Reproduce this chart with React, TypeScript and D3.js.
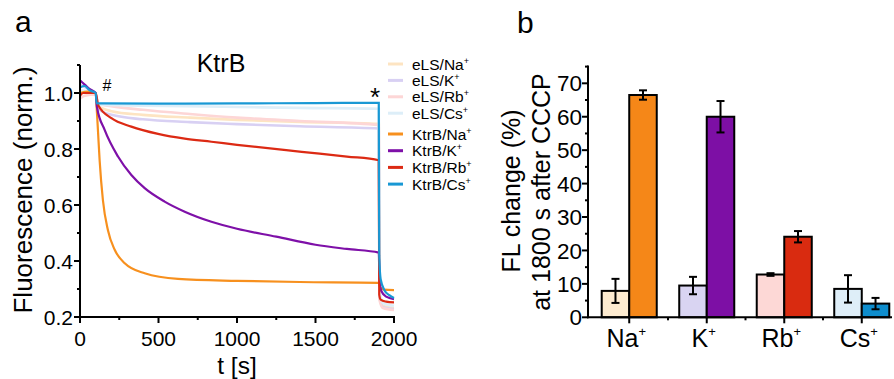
import React from "react";
import * as d3 from "d3";

// ---------- Panel a data: [time (s), normalized fluorescence] ----------
const elsNa: [number, number][] = [
  [0, 1.0], [50, 1.003], [100, 1.0], [110, 0.955], [200, 0.935], [400, 0.922], [700, 0.912],
  [1000, 0.904], [1400, 0.897], [1903, 0.89], [1908, 0.27], [1930, 0.24], [2000, 0.232],
];
const elsK: [number, number][] = [
  [0, 1.03], [50, 1.015], [100, 1.0], [110, 0.945], [200, 0.922], [400, 0.906], [700, 0.896],
  [1000, 0.889], [1400, 0.881], [1903, 0.873], [1908, 0.27], [1930, 0.235], [2000, 0.228],
];
const elsRb: [number, number][] = [
  [0, 0.98], [30, 0.99], [100, 0.995], [110, 0.962], [200, 0.953], [400, 0.94], [700, 0.925],
  [1000, 0.912], [1400, 0.9], [1903, 0.886], [1908, 0.26], [1930, 0.232], [2000, 0.225],
];
const elsCs: [number, number][] = [
  [0, 1.01], [100, 1.0], [110, 0.958], [400, 0.955], [1000, 0.95], [1400, 0.947],
  [1903, 0.944], [1908, 0.3], [1930, 0.25], [2000, 0.24],
];
const ktrbNa: [number, number][] = [
  [0, 1.0], [50, 1.005], [100, 1.0], [108, 0.93], [115, 0.86], [125, 0.76], [146, 0.617],
  [178, 0.51], [221, 0.44], [285, 0.392], [412, 0.356], [624, 0.336], [1000, 0.329],
  [1400, 0.325], [1903, 0.322], [1912, 0.305], [1935, 0.298], [2000, 0.296],
];
const ktrbK: [number, number][] = [
  [0, 1.045], [30, 1.03], [60, 1.015], [100, 1.0], [108, 0.95], [157, 0.868], [242, 0.773],
  [327, 0.707], [412, 0.66], [539, 0.612], [667, 0.576], [837, 0.54], [1000, 0.515],
  [1250, 0.487], [1500, 0.458], [1700, 0.443], [1903, 0.43], [1908, 0.33], [1920, 0.292],
  [1950, 0.273], [2000, 0.264],
];
const ktrbRb: [number, number][] = [
  [0, 0.99], [20, 1.0], [100, 1.0], [117, 0.955], [200, 0.91], [327, 0.88], [497, 0.854],
  [667, 0.837], [837, 0.826], [1000, 0.815], [1412, 0.79], [1700, 0.773], [1903, 0.76],
  [1906, 0.28], [1915, 0.262], [1950, 0.255], [2000, 0.252],
];
const ktrbCs: [number, number][] = [
  [0, 1.02], [30, 1.025], [60, 1.01], [100, 1.0], [106, 0.963], [500, 0.962], [1000, 0.963],
  [1500, 0.964], [1903, 0.965], [1906, 0.42], [1915, 0.335], [1940, 0.295], [1970, 0.278],
  [2000, 0.268],
];

const seriesNames = [
  "eLS/Na", "eLS/K", "eLS/Rb", "eLS/Cs", "KtrB/Na", "KtrB/K", "KtrB/Rb", "KtrB/Cs",
];
const seriesData = [elsNa, elsK, elsRb, elsCs, ktrbNa, ktrbK, ktrbRb, ktrbCs];
const seriesColors = [
  "#fde4c2", "#d8d0f3", "#fdd6d6", "#ddeef8", "#f7901e", "#7e10a8", "#dc2a14", "#1898d4",
];

const xTicksA = [0, 500, 1000, 1500, 2000];
const xMinorA = [250, 750, 1250, 1750];
const yTicksA = [0.2, 0.4, 0.6, 0.8, 1.0];
const yMinorA = [0.3, 0.5, 0.7, 0.9, 1.1];

// ---------- Panel b data ----------
const ions = ["Na", "K", "Rb", "Cs"];
const elsChange = [7.9, 9.5, 12.8, 8.5];
const elsErr = [3.6, 2.6, 0.4, 4.1];
const ktrbChange = [66.5, 60.0, 24.1, 4.1];
const ktrbErr = [1.4, 4.7, 1.7, 1.7];
const elsBarColors = ["#fdebd0", "#d9d4f2", "#fdd8d6", "#deeef8"];
const ktrbBarColors = ["#f58718", "#7d0fa5", "#d92b10", "#0e8dcd"];
const yTicksB = [0, 10, 20, 30, 40, 50, 60, 70];
const yMinorB = [5, 15, 25, 35, 45, 55, 65, 75];

const FONT = "'Liberation Sans', Arial, Helvetica, sans-serif";

export default function App() {
  // Panel a scales
  const xa = d3.scaleLinear().domain([0, 2000]).range([80, 394]);
  const ya = d3.scaleLinear().domain([0.2, 1.1]).range([317, 65]);
  const line = d3
    .line<[number, number]>()
    .x((d) => xa(d[0]))
    .y((d) => ya(d[1]))
    .curve(d3.curveMonotoneX);

  // Panel b scales
  const xb = d3
    .scaleBand<string>()
    .domain(ions)
    .range([588, 903])
    .paddingInner(0.29)
    .paddingOuter(0.177);
  const yb = d3.scaleLinear().domain([0, 75]).range([317.3, 66.6]);
  const bw = xb.bandwidth() / 2;

  const axisColor = "#000";

  return (
    <svg
      width={894}
      height={379}
      style={{ position: "absolute", left: 0, top: 0, background: "#fff" }}
      fontFamily={FONT}
    >
      <rect x={0} y={0} width={894} height={379} fill="#fff" />
      {/* ===== Panel a ===== */}
      <text x={15} y={32} fontSize={30}>a</text>
      <text x={221} y={72} fontSize={25} textAnchor="middle">KtrB</text>

      {seriesData.map((d, i) => (
        <path
          key={seriesNames[i]}
          d={line(d) || ""}
          fill="none"
          stroke={seriesColors[i]}
          strokeWidth={i < 4 ? 2.6 : 2.2}
        />
      ))}

      <text x={107} y={91} fontSize={16} textAnchor="middle">#</text>
      <text x={375} y={106} fontSize={26} textAnchor="middle">*</text>

      {/* axes a */}
      <line x1={80} x2={80} y1={ya(1.1)} y2={ya(0.2) + 1} stroke={axisColor} strokeWidth={2} />
      <line x1={79} x2={xa(2000) + 1} y1={ya(0.2)} y2={ya(0.2)} stroke={axisColor} strokeWidth={2} />
      {yTicksA.map((t) => (
        <g key={"ya" + t}>
          <line x1={74} x2={80} y1={ya(t)} y2={ya(t)} stroke={axisColor} strokeWidth={2} />
          <text x={73} y={ya(t)} dy="0.36em" fontSize={21} textAnchor="end">
            {t.toFixed(1)}
          </text>
        </g>
      ))}
      {yMinorA.map((t) => (
        <line key={"yam" + t} x1={77} x2={80} y1={ya(t)} y2={ya(t)} stroke={axisColor} strokeWidth={2} />
      ))}
      {xTicksA.map((t) => (
        <g key={"xa" + t}>
          <line x1={xa(t)} x2={xa(t)} y1={317} y2={323} stroke={axisColor} strokeWidth={2} />
          <text x={xa(t)} y={346} fontSize={21} textAnchor="middle">{t}</text>
        </g>
      ))}
      {xMinorA.map((t) => (
        <line key={"xam" + t} x1={xa(t)} x2={xa(t)} y1={317} y2={320} stroke={axisColor} strokeWidth={2} />
      ))}
      <text x={237} y={374} fontSize={24.5} textAnchor="middle">t [s]</text>
      <text
        transform={`translate(32,190) rotate(-90)`}
        fontSize={26}
        textAnchor="middle"
      >
        Fluorescence (norm.)
      </text>

      {/* legend a */}
      {seriesNames.map((n, i) => {
        const yy = i < 4 ? 64 + i * 16.4 : 134 + (i - 4) * 16.7;
        const [base, ion] = n.split("/");
        return (
          <g key={"leg" + n}>
            <line x1={388} x2={403} y1={yy} y2={yy} stroke={seriesColors[i]} strokeWidth={3} />
            <text x={412} y={yy + 5.5} fontSize={15.5}>
              {base}/{ion}
              <tspan dy={-6} fontSize={9}>+</tspan>
            </text>
          </g>
        );
      })}

      {/* ===== Panel b ===== */}
      <text x={517} y={33} fontSize={30}>b</text>

      {ions.map((ion, i) => {
        const x0 = xb(ion)!;
        return (
          <g key={"bar" + ion}>
            <rect
              x={x0}
              y={yb(elsChange[i])}
              width={bw}
              height={yb(0) - yb(elsChange[i])}
              fill={elsBarColors[i]}
              stroke="#000"
              strokeWidth={2}
            />
            <rect
              x={x0 + bw}
              y={yb(ktrbChange[i])}
              width={bw}
              height={yb(0) - yb(ktrbChange[i])}
              fill={ktrbBarColors[i]}
              stroke="#000"
              strokeWidth={2}
            />
            {[
              [x0 + bw / 2, elsChange[i], elsErr[i]],
              [x0 + bw * 1.5, ktrbChange[i], ktrbErr[i]],
            ].map(([cx, v, e], k) => (
              <g key={k}>
                <line x1={cx} x2={cx} y1={yb(v - e)} y2={yb(v + e)} stroke="#000" strokeWidth={2} />
                <line x1={cx - 4} x2={cx + 4} y1={yb(v - e)} y2={yb(v - e)} stroke="#000" strokeWidth={2} />
                <line x1={cx - 4} x2={cx + 4} y1={yb(v + e)} y2={yb(v + e)} stroke="#000" strokeWidth={2} />
              </g>
            ))}
          </g>
        );
      })}

      {/* axes b */}
      <line x1={588} x2={588} y1={yb(75.3)} y2={yb(0) + 1} stroke={axisColor} strokeWidth={2} />
      <line x1={587} x2={892} y1={yb(0)} y2={yb(0)} stroke={axisColor} strokeWidth={2} />
      {yTicksB.map((t) => (
        <g key={"yb" + t}>
          <line x1={582} x2={588} y1={yb(t)} y2={yb(t)} stroke={axisColor} strokeWidth={2} />
          <text x={582} y={yb(t)} dy="0.36em" fontSize={22.5} textAnchor="end">{t}</text>
        </g>
      ))}
      {yMinorB.map((t) => (
        <line key={"ybm" + t} x1={585} x2={588} y1={yb(t)} y2={yb(t)} stroke={axisColor} strokeWidth={2} />
      ))}
      {ions.map((ion) => {
        const cx = xb(ion)! + xb.bandwidth() / 2;
        const edge = xb(ion)! + xb.bandwidth() + (xb.step() - xb.bandwidth()) / 2;
        return (
          <g key={"xb" + ion}>
            <line x1={cx} x2={cx} y1={yb(0)} y2={yb(0) + 6} stroke={axisColor} strokeWidth={2} />
            {edge < 892 && (
              <line x1={edge} x2={edge} y1={yb(0)} y2={yb(0) + 3} stroke={axisColor} strokeWidth={2} />
            )}
            <text x={cx - 3} y={347} fontSize={25} textAnchor="middle">
              {ion}
              <tspan dy={-11} fontSize={13}>+</tspan>
            </text>
          </g>
        );
      })}
      <text transform={`translate(520,191) rotate(-90)`} fontSize={25} textAnchor="middle">
        FL change (%)
      </text>
      <text transform={`translate(550,192) rotate(-90)`} fontSize={25} textAnchor="middle">
        at 1800 s after CCCP
      </text>
    </svg>
  );
}
